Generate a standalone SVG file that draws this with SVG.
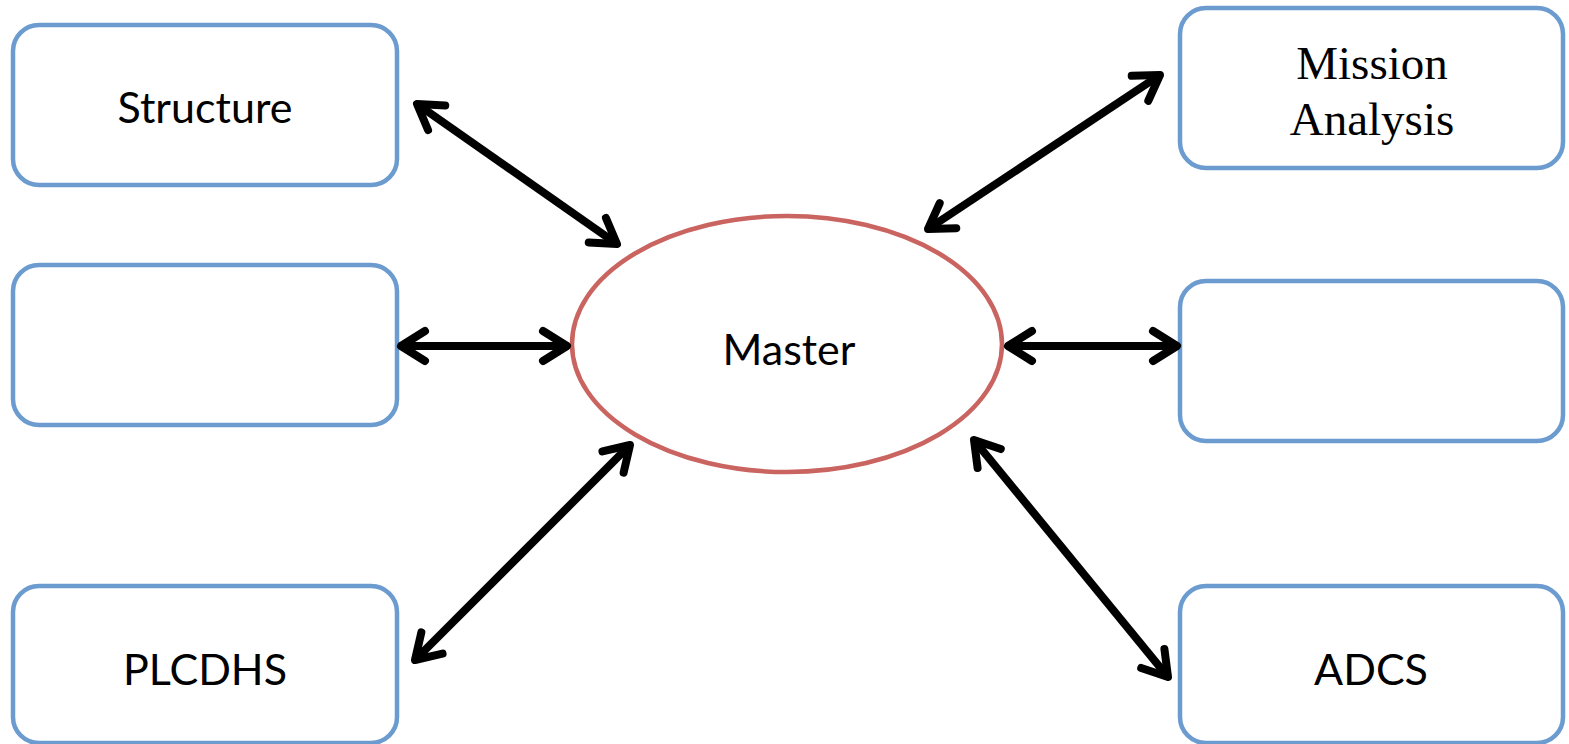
<svg xmlns="http://www.w3.org/2000/svg" width="1569" height="744" viewBox="0 0 1569 744">
<defs>
<style>
.box{fill:#fff;stroke:#6b9bcf;stroke-width:4.5}
.ell{fill:#fff;stroke:#c96460;stroke-width:4.5}
.lbl{font-family:Lato,"Open Sans","Liberation Sans",sans-serif;font-size:43px;fill:#000;text-anchor:middle}
.ser{font-family:"Liberation Serif",serif;font-size:47px;fill:#000;text-anchor:middle}
.con{stroke:#000;stroke-width:8;fill:none;marker-start:url(#ah);marker-end:url(#ah)}
</style>
<marker id="ah" markerUnits="userSpaceOnUse" viewBox="-32 -22 38 44" refX="0" refY="0" markerWidth="38" markerHeight="44" orient="auto-start-reverse">
<path d="M-24,-15 L0,0 L-24,15" fill="none" stroke="#000" stroke-width="8" stroke-linecap="round" stroke-linejoin="round"/>
</marker>
</defs>
<rect width="1569" height="744" fill="#fff"/>
<g id="structure"><rect class="box" x="13" y="25" width="384" height="160" rx="26"/><text class="lbl" x="205" y="123">Structure</text></g>
<g id="left-middle"><rect class="box" x="13" y="265" width="384" height="160" rx="26"/></g>
<g id="plcdhs"><rect class="box" x="13" y="586" width="384" height="157" rx="26"/><text class="lbl" x="205" y="685">PLCDHS</text></g>
<g id="mission"><rect class="box" x="1180" y="8" width="383" height="160" rx="26"/><text class="ser" x="1372" y="79">Mission</text><text class="ser" x="1372" y="135">Analysis</text></g>
<g id="right-middle"><rect class="box" x="1180" y="281" width="383" height="160" rx="26"/></g>
<g id="adcs"><rect class="box" x="1180" y="586" width="383" height="157" rx="26"/><text class="lbl" x="1371" y="685">ADCS</text></g>
<g id="master"><ellipse class="ell" cx="787" cy="344" rx="215" ry="128"/><text class="lbl" x="789" y="365">Master</text></g>
<g id="connectors">
<line class="con" x1="417" y1="104" x2="617" y2="244"/>
<line class="con" x1="401" y1="346" x2="567" y2="346"/>
<line class="con" x1="415" y1="660" x2="630" y2="445"/>
<line class="con" x1="1160" y1="75" x2="928" y2="229"/>
<line class="con" x1="1008" y1="346" x2="1177" y2="346"/>
<line class="con" x1="974" y1="440" x2="1168" y2="677"/>
</g>
</svg>
